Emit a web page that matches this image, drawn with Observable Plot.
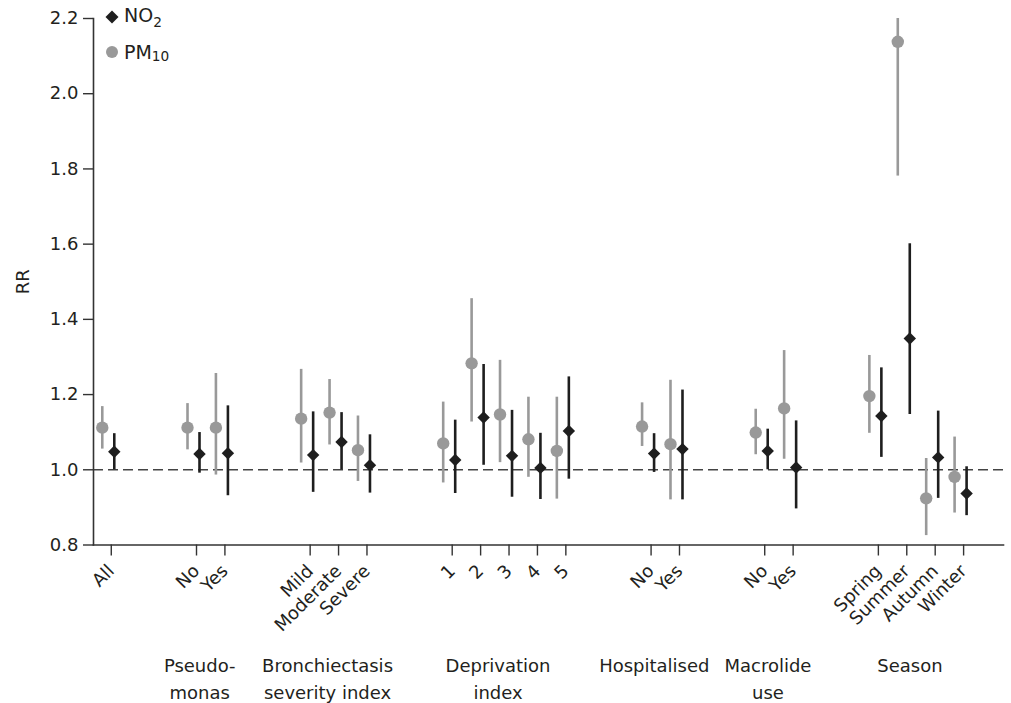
<!DOCTYPE html>
<html>
<head>
<meta charset="utf-8">
<script src="https://cdn.jsdelivr.net/npm/d3@7"></script>
<script src="https://cdn.jsdelivr.net/npm/@observablehq/plot@0.6"></script>
<style>
  body { margin: 0; background: #fff; }
  #wrap { position: relative; width: 1011px; height: 703px; font-family: "DejaVu Sans", sans-serif; color: #231f20; }
  #legend { position: absolute; left: 104px; top: 0px; font-size: 19px; }
  #legend .row { display: flex; align-items: center; height: 34.5px; }
  #legend svg { margin-right: 4px; }
</style>
</head>
<body>
<div id="wrap">
  <div id="legend">
    <div class="row"><svg width="16" height="16"><path d="M8,1.5L14.5,8L8,14.5L1.5,8Z" fill="#1e1e1e"/></svg><span>NO<sub style="font-size:0.72em">2</sub></span></div>
    <div class="row"><svg width="16" height="16"><circle cx="8" cy="8" r="6" fill="#999"/></svg><span>PM<span style="font-size:0.72em;position:relative;top:2px">10</span></span></div>
  </div>
</div>
<script>
// ---- data ----
const categories = ["All","No","Yes","Mild","Moderate","Severe","1","2","3","4","5","No","Yes","No","Yes","Spring","Summer","Autumn","Winter"];
const groupOf    = [0,1,1,2,2,2,3,3,3,3,3,4,4,5,5,6,6,6,6];
const groupLabels = ["", "Pseudo-\nmonas", "Bronchiectasis\nseverity index", "Deprivation\nindex", "Hospitalised", "Macrolide\nuse", "Season"];

const no2    = [1.048,1.042,1.044,1.039,1.074,1.012,1.026,1.139,1.037,1.005,1.103,1.043,1.055,1.050,1.006,1.143,1.349,1.033,0.937];
const no2Lo  = [1.000,0.991,0.931,0.940,1.000,0.938,0.937,1.012,0.927,0.921,0.975,0.993,0.920,1.000,0.896,1.033,1.147,0.924,0.878];
const no2Hi  = [1.096,1.099,1.170,1.154,1.152,1.093,1.132,1.280,1.158,1.097,1.247,1.096,1.212,1.108,1.130,1.271,1.601,1.156,1.008];
const pm10   = [1.112,1.112,1.112,1.136,1.152,1.052,1.070,1.283,1.147,1.081,1.050,1.115,1.068,1.099,1.163,1.196,2.138,0.924,0.981];
const pm10Lo = [1.055,1.053,0.986,1.018,1.066,0.969,0.965,1.127,1.019,0.980,0.922,1.062,0.920,1.040,1.028,1.097,1.781,0.825,0.885];
const pm10Hi = [1.168,1.176,1.256,1.267,1.240,1.143,1.180,1.455,1.291,1.193,1.193,1.178,1.238,1.161,1.317,1.304,2.200,1.030,1.087];
const yTicks = [0.8,1.0,1.2,1.4,1.6,1.8,2.0,2.2];

// ---- derived table: slot index with two empty slots between groups ----
const rows = categories.map((c, i) => ({
  pos: i + 2 * groupOf[i], label: c,
  no2: no2[i], no2Lo: no2Lo[i], no2Hi: no2Hi[i],
  pm10: pm10[i], pm10Lo: pm10Lo[i], pm10Hi: pm10Hi[i]
}));
const labelByPos = new Map(rows.map(r => [r.pos, r.label]));
const groupRows = groupLabels.map((g, gi) => {
  const ps = rows.filter((r, i) => groupOf[i] === gi).map(r => r.pos);
  return {label: g, center: d3.mean(ps)};
}).filter(d => d.label);

const grey = "#999999", black = "#1e1e1e", axisCol = "#333";
const lastPos = d3.max(rows, r => r.pos);

const chart = Plot.plot({
  width: 1011, height: 703,
  marginTop: 18, marginBottom: 158.5, marginLeft: 93, marginRight: 8,
  style: {fontFamily: '"DejaVu Sans", sans-serif', fontSize: "18px", color: "#231f20", background: "transparent"},
  x: {domain: [-0.52, lastPos + 1.51]},
  y: {domain: [0.8, 2.2]},
  marks: [
    Plot.ruleY([1], {stroke: "#444", strokeWidth: 1.6, strokeDasharray: "10,5"}),
    Plot.frame({anchor: "left", stroke: axisCol, strokeWidth: 1.6}),
    Plot.frame({anchor: "bottom", stroke: axisCol, strokeWidth: 1.6}),
    Plot.axisY(yTicks, {tickFormat: d3.format(".1f"), tickSize: 10, tickPadding: 5, stroke: axisCol, strokeWidth: 1.4,
      label: "RR", labelAnchor: "center", labelArrow: "none", labelOffset: 77, fontSize: 18}),
    Plot.axisX(rows.map(r => r.pos), {tickFormat: p => labelByPos.get(p), tickRotate: -45, tickSize: 11, tickPadding: 12, dx: 3,
      stroke: axisCol, strokeWidth: 1.4, label: null, fontSize: 18}),
    Plot.ruleX(rows, {x: "pos", y1: "pm10Lo", y2: "pm10Hi", dx: -6, stroke: grey, strokeWidth: 2.6}),
    Plot.dot(rows, {x: "pos", y: "pm10", dx: -6, r: 6.2, fill: grey, stroke: "none"}),
    Plot.ruleX(rows, {x: "pos", y1: "no2Lo", y2: "no2Hi", dx: 6, stroke: black, strokeWidth: 2.6}),
    Plot.dot(rows, {x: "pos", y: "no2", dx: 6, r: 5.6, symbol: "diamond2", fill: black, stroke: "none"}),
    Plot.text(groupRows, {x: "center", text: "label", frameAnchor: "bottom", lineAnchor: "top", dy: 108, dx: -8, lineHeight: 1.5, fontSize: 18, fill: "#231f20"})
  ]
});
document.getElementById("wrap").prepend(chart);
</script>
</body>
</html>
